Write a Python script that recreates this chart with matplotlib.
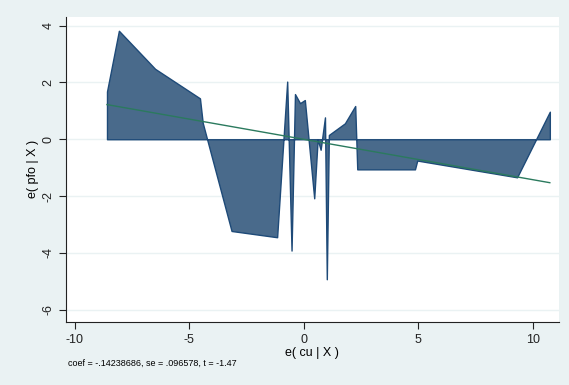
import matplotlib.pyplot as plt

plt.rcParams['font.family'] = ['Liberation Sans', 'DejaVu Sans']

# residual points e(cu|X), e(pfo|X)
cu = [-8.6, -8.08, -6.5, -4.54, -4.42, -3.16, -1.17, -0.73, -0.54, -0.39, -0.17,
      0.04, 0.45, 0.6, 0.73, 0.92, 1.0, 1.09, 1.79, 2.24, 2.33, 4.85, 4.95, 9.31, 10.74]
pfo = [1.68, 3.82, 2.48, 1.44, 0.58, -3.23, -3.45, 2.03, -3.92, 1.59, 1.27,
       1.38, -2.08, 0.0, -0.37, 0.77, -4.93, 0.15, 0.56, 1.17, -1.06, -1.06, -0.75, -1.34, 0.97]

# fitted line end points
fit_x = [-8.6, 10.74]
fit_y = [1.22, -1.53]

note = "coef = -.14238686, se = .096578, t = -1.47"

fig = plt.figure(figsize=(5.69, 3.85), dpi=100)
fig.patch.set_facecolor('#eaf2f3')
ax = fig.add_axes([0.116, 0.164, 0.866, 0.793])
ax.set_facecolor('white')

ax.fill_between(cu, pfo, 0, facecolor='#496a8b', edgecolor='#1e4a78', linewidth=1.0, zorder=2)
ax.plot(fit_x, fit_y, color='#2b7a5e', linewidth=1.0, zorder=3)

ax.set_xlim(-10.39, 11.13)
ax.set_ylim(-6.43, 4.32)
ax.set_xticks([-10, -5, 0, 5, 10])
ax.set_xticklabels(['-10', '-5', '0', '5', '10'])
ax.set_yticks([-6, -4, -2, 0, 2, 4])
ax.set_yticklabels(['-6', '-4', '-2', '0', '2', '4'], rotation=90, va='center')
ax.grid(axis='y', color='#eaf2f3', linewidth=1.0, zorder=0)
ax.set_axisbelow(True)
for s in ['top', 'right']:
    ax.spines[s].set_visible(False)
ax.spines['left'].set_color('#222222')
ax.spines['bottom'].set_color('#222222')
ax.tick_params(labelsize=9, length=5, width=0.8, colors='#222222')
ax.set_xlabel("e( cu | X )", fontsize=9, labelpad=1)
ax.set_ylabel("e( pfo | X )", fontsize=9, labelpad=2)

fig.text(68 / 569, 1 - 363 / 385, note, fontsize=6.5, va='center', ha='left')

plt.savefig('out.png', dpi=100, facecolor=fig.get_facecolor())
